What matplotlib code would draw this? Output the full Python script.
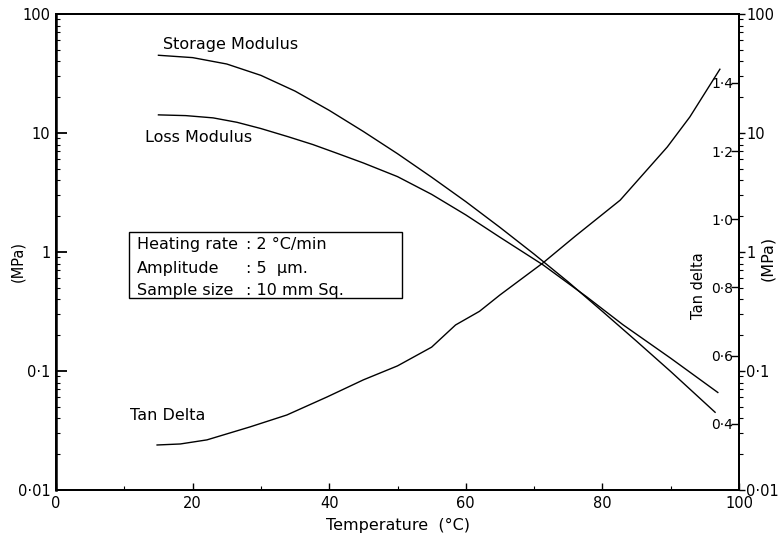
import matplotlib.pyplot as plt
import matplotlib.patches as patches
from matplotlib.ticker import FixedLocator, NullFormatter, LogLocator

# storage modulus (MPa) vs temperature (C)
t_storage = [15, 20, 25, 30, 35, 40, 45, 50, 55, 60, 65, 70, 75, 80, 85, 90, 96.5]
storage = [45, 43, 38, 30.5, 22.5, 15.5, 10.3, 6.7, 4.25, 2.65, 1.61, 0.96, 0.56, 0.317, 0.178, 0.099, 0.045]

# loss modulus (MPa)
t_loss = [15, 19, 23, 26.5, 30, 34, 37.6, 41, 45, 50, 55, 60, 65, 71.3, 77.7, 83, 90, 96.9]
loss = [14.2, 14.0, 13.4, 12.3, 10.9, 9.3, 8.0, 6.8, 5.6, 4.3, 3.05, 2.05, 1.33, 0.78, 0.42, 0.245, 0.128, 0.066]

# tan delta (linear, right scale)
t_tan = [14.8, 18.2, 22.1, 28.4, 33.8, 39.7, 45, 50, 55, 58.5, 62, 65, 71.3, 76, 82.6, 89.5, 92.8, 97.2]
tan_delta = [0.338, 0.341, 0.353, 0.391, 0.426, 0.479, 0.529, 0.57, 0.625, 0.69, 0.73, 0.778, 0.872, 0.95, 1.056, 1.212, 1.30, 1.44]

mpa_ticks = [0.01, 0.1, 1, 10, 100]
mpa_labels = ["0·01", "0·1", "1", "10", "100"]
tan_ticks = [0.4, 0.6, 0.8, 1.0, 1.2, 1.4]
tan_labels = ["0·4", "0·6", "0·8", "1·0", "1·2", "1·4"]
x_ticks = [0, 20, 40, 60, 80, 100]

plt.rcParams['font.family'] = ['DejaVu Sans']
fs = 10.5
fa = 11.5

W, H = 778, 536
fig = plt.figure(figsize=(W/100, H/100), dpi=100)
ax = fig.add_axes([56/W, 1-490/H, (739-56)/W, (490-14)/H])

def fx(px):
    return px / W

def fy(py):
    return 1 - py / H

ax.plot(t_storage, storage, color='black', lw=1.0)
ax.plot(t_loss, loss, color='black', lw=1.0)
ax.set_yscale('log')
ax.set_ylim(0.01, 100)
ax.set_xlim(0, 100)
ax.yaxis.set_major_locator(FixedLocator(mpa_ticks))
ax.set_yticklabels(mpa_labels)
ax.yaxis.set_minor_locator(LogLocator(base=10, subs=range(2, 10)))
ax.yaxis.set_minor_formatter(NullFormatter())
ax.set_xticks(x_ticks)
ax.set_xticks(range(10, 100, 20), minor=True)
ax.tick_params(axis='both', which='major', direction='in', length=5, width=1, labelsize=fs, pad=4)
ax.tick_params(axis='both', which='minor', direction='in', length=3, width=0.8)
ax.tick_params(axis='y', which='major', length=8, width=1.3)
ax.set_xlabel("Temperature  (°C)", fontsize=fa, labelpad=5)
for s in ax.spines.values():
    s.set_linewidth(1.2)
ax.spines['left'].set_linewidth(1.8)

# tan delta scale, labels drawn inside the frame
ax2 = ax.twinx()
ax2.plot(t_tan, tan_delta, color='black', lw=1.0)
ax2.set_ylim(0.206, 1.602)
ax2.yaxis.set_major_locator(FixedLocator(tan_ticks))
ax2.set_yticklabels(tan_labels)
ax2.tick_params(axis='y', direction='in', length=6, width=1, labelsize=10, pad=-4)
for lab in ax2.get_yticklabels():
    lab.set_horizontalalignment('right')
ax2.text(0.941, 0.43, "Tan delta", transform=ax2.transAxes, rotation=90,
         fontsize=fs, ha='center', va='center')

# second MPa scale on the outside
ax3 = ax.twinx()
ax3.set_yscale('log')
ax3.set_ylim(0.01, 100)
ax3.yaxis.set_major_locator(FixedLocator(mpa_ticks))
ax3.set_yticklabels(mpa_labels)
ax3.yaxis.set_minor_locator(LogLocator(base=10, subs=range(2, 10)))
ax3.yaxis.set_minor_formatter(NullFormatter())
ax3.tick_params(axis='y', which='major', direction='out', length=4, width=1, labelsize=fs, pad=1)
ax3.tick_params(axis='y', which='minor', direction='out', length=3, width=0.8)
for a in (ax2, ax3):
    for s in a.spines.values():
        s.set_linewidth(1.2)

# unit labels at both sides
fig.text(fx(18), fy(262), "(MPa)", rotation=90, fontsize=fs, ha='center', va='center')
fig.text(fx(768), fy(258), "(MPa)", rotation=90, fontsize=fa, ha='center', va='center')

# curve names
ax.text(15.7, 55, "Storage Modulus", fontsize=fa, va='center')
ax.text(13.0, 9.2, "Loss Modulus", fontsize=fa, va='center')
ax.text(10.8, 0.042, "Tan Delta", fontsize=fa, va='center')

# test conditions box
fig.patches.append(patches.Rectangle((fx(129), fy(298)), (402-129)/W, 66/H,
                                     transform=fig.transFigure, fill=False,
                                     ec='black', lw=1.0))
rows = [("Heating rate", ": 2 °C/min", 245),
        ("Amplitude", ": 5  µm.", 268),
        ("Sample size", ": 10 mm Sq.", 290)]
for name, val, py in rows:
    fig.text(fx(137), fy(py), name, fontsize=fa, va='center')
    fig.text(fx(246), fy(py), val, fontsize=fa, va='center')

fig.savefig("out.png", dpi=100)
